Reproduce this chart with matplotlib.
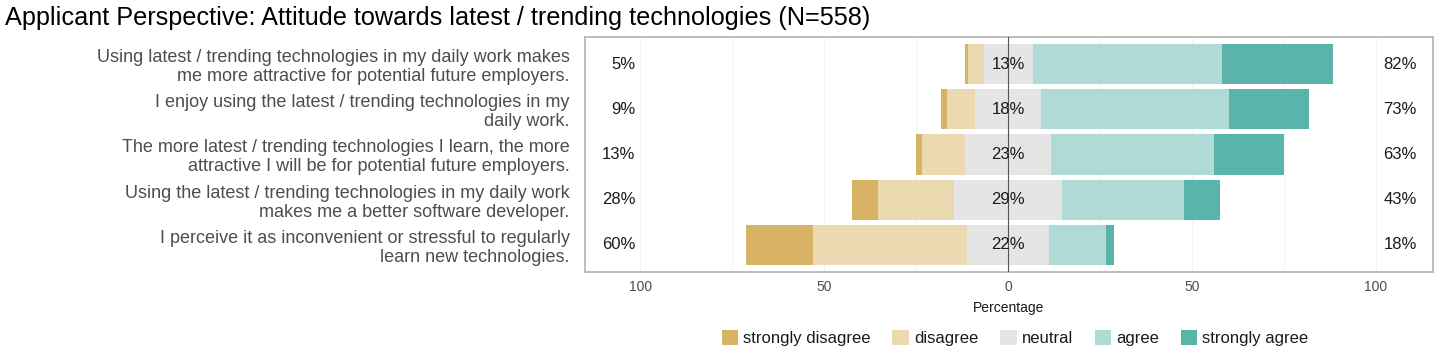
import matplotlib
matplotlib.use("Agg")
import matplotlib.pyplot as plt
from matplotlib.patches import Patch
import numpy as np

plt.rcParams['font.family'] = ['Liberation Sans', 'DejaVu Sans']

title = "Applicant Perspective: Attitude towards latest / trending technologies (N=558)"
items = [
    "Using latest / trending technologies in my daily work makes\nme more attractive for potential future employers.",
    "I enjoy using the latest / trending technologies in my\ndaily work.",
    "The more latest / trending technologies I learn, the more\nattractive I will be for potential future employers.",
    "Using the latest / trending technologies in my daily work\nmakes me a better software developer.",
    "I perceive it as inconvenient or stressful to regularly\nlearn new technologies.",
]
levels = ["strongly disagree", "disagree", "neutral", "agree", "strongly agree"]
strongly_disagree = [0.9, 1.6, 1.6, 7.2, 18.0]
disagree = [4.2, 7.5, 11.6, 20.6, 42.0]
neutral = [13.3, 18.1, 23.4, 29.3, 22.3]
agree = [51.4, 51.0, 44.4, 33.2, 15.5]
strongly_agree = [30.2, 21.8, 19.0, 9.7, 2.2]
colors = ["#D8B365", "#EBD9B1", "#E5E5E5", "#AFDAD6", "#5AB4AC"]
xticks = [-100, -50, 0, 50, 100]
xticklabels = ["100", "50", "0", "50", "100"]

W, H = 1440, 362
fig = plt.figure(figsize=(W / 100, H / 100), dpi=100)
ax = fig.add_axes([585 / W, 1 - 272 / H, (1433 - 585) / W, (272 - 37) / H])

sd = np.array(strongly_disagree)
d = np.array(disagree)
n = np.array(neutral)
a = np.array(agree)
sa = np.array(strongly_agree)
y = np.arange(len(items))
h = 0.89

ax.barh(y, -n / 2 - d - sd, left=0, height=h, color=colors[0], zorder=2)
ax.barh(y, -n / 2 - d, left=0, height=h, color=colors[1], zorder=2)
ax.barh(y, n, left=-n / 2, height=h, color=colors[2], zorder=2)
ax.barh(y, a, left=n / 2, height=h, color=colors[3], zorder=2)
ax.barh(y, sa, left=n / 2 + a, height=h, color=colors[4], zorder=2)

ax.axvline(0, color="#555555", lw=0.8, zorder=3)

for i in range(len(items)):
    ax.text(-101.3, y[i], f"{round(sd[i] + d[i])}%", ha="right", va="center",
            fontsize=12, color="#1A1A1A", zorder=4)
    ax.text(0, y[i], f"{round(n[i])}%", ha="center", va="center",
            fontsize=12, color="#1A1A1A", zorder=4)
    ax.text(102, y[i], f"{round(a[i] + sa[i])}%", ha="left", va="center",
            fontsize=12, color="#1A1A1A", zorder=4)

ax.set_xlim(-115, 115.5)
ax.set_ylim(len(items) - 1 + 0.6, -0.6)
ax.set_yticks(y)
ax.set_yticklabels(items, fontsize=13, color="#4D4D4D", linespacing=1.15)
ax.set_xticks(xticks)
ax.set_xticklabels(xticklabels, fontsize=10, color="#4D4D4D")
ax.set_xticks([-75, -25, 25, 75], minor=True)
ax.grid(axis="x", which="both", color="#F2F2F2", lw=0.8, zorder=0)
ax.tick_params(axis="both", which="both", length=0, pad=6)
ax.tick_params(axis="y", pad=11)
ax.set_xlabel("Percentage", fontsize=10, color="#1A1A1A", labelpad=5)
for s in ax.spines.values():
    s.set_color("#B3B3B3")
    s.set_linewidth(1.2)

fig.text(5 / W, 1 - 6 / H, title, fontsize=18.2, ha="left", va="top", color="#000000")

handles = [Patch(facecolor=c, edgecolor="none") for c in colors]
fig.legend(handles, levels, loc="center", bbox_to_anchor=(1015 / W, 1 - 338 / H),
           ncol=5, frameon=False, fontsize=12, handlelength=1.0, handleheight=1.0,
           handletextpad=0.3, columnspacing=1.3, labelcolor="#1A1A1A")

fig.savefig("out.png", dpi=100)
